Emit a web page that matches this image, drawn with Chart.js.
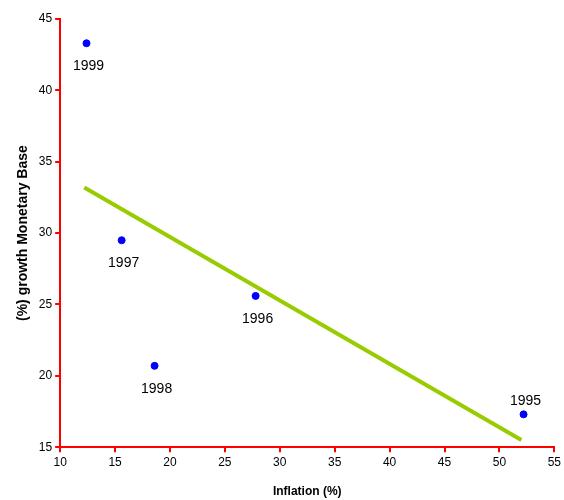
<!DOCTYPE html>
<html>
<head>
<script src="https://cdn.jsdelivr.net/npm/chart.js@4"></script>
<style>body{margin:0;background:#fff}#wrap{width:564px;height:500px}</style>
</head>
<body>
<div id="wrap"><canvas id="myChart"></canvas></div>
<script>
const years = ['1995', '1996', '1997', '1998', '1999'];
const inflation = [52.2, 27.8, 15.6, 18.6, 12.4];
const baseGrowth = [17.3, 25.6, 29.5, 20.7, 43.3];
const trendX = [12.2, 52.0];
const trendY = [33.2, 15.5];

const ctx = document.getElementById('myChart').getContext('2d');

const yearLabels = {
  id: 'yearLabels',
  afterDatasetsDraw(chart) {
    const meta = chart.getDatasetMeta(1);
    const c = chart.ctx;
    c.save();
    c.font = '14px "Liberation Sans", Arial, sans-serif';
    c.fillStyle = '#000';
    c.textAlign = 'center';
    meta.data.forEach((pt, i) => {
      const above = years[i] === '1995';
      c.textBaseline = above ? 'bottom' : 'top';
      c.fillText(years[i], pt.x + 2, above ? pt.y - 6 : pt.y + 16);
    });
    c.restore();
  }
};

new Chart(ctx, {
  type: 'scatter',
  data: {
    datasets: [
      {
        type: 'line',
        data: trendX.map((x, i) => ({ x: x, y: trendY[i] })),
        borderColor: '#99cc00',
        borderWidth: 4,
        pointRadius: 0,
        fill: false
      },
      {
        data: inflation.map((x, i) => ({ x: x, y: baseGrowth[i] })),
        backgroundColor: '#0000ff',
        borderColor: '#0000ff',
        pointRadius: 3.5
      }
    ]
  },
  options: {
    responsive: true,
    maintainAspectRatio: false,
    animation: false,
    layout: { padding: { top: 19, right: 9, left: 11, bottom: 1 } },
    plugins: { legend: { display: false }, tooltip: { enabled: false } },
    scales: {
      x: {
        type: 'linear', min: 10, max: 55,
        border: { color: '#ff0000', width: 2 },
        grid: { drawOnChartArea: false, color: '#ff0000', tickLength: 5, lineWidth: 2 },
        ticks: { stepSize: 5, color: '#000', font: { size: 12, family: 'Liberation Sans' } },
        title: { display: true, text: 'Inflation (%)', padding: { top: 12, bottom: 0 }, color: '#000', font: { size: 12, weight: 'bold', family: 'Liberation Sans' } }
      },
      y: {
        min: 15, max: 45,
        border: { color: '#ff0000', width: 2 },
        grid: { drawOnChartArea: false, color: '#ff0000', tickLength: 5, lineWidth: 2 },
        ticks: { stepSize: 5, color: '#000', font: { size: 12, family: 'Liberation Sans' } },
        title: { display: true, text: '(%) growth Monetary Base', color: '#000', font: { size: 14, weight: 'bold', family: 'Liberation Sans' } }
      }
    }
  },
  plugins: [yearLabels]
});
</script>
</body>
</html>
